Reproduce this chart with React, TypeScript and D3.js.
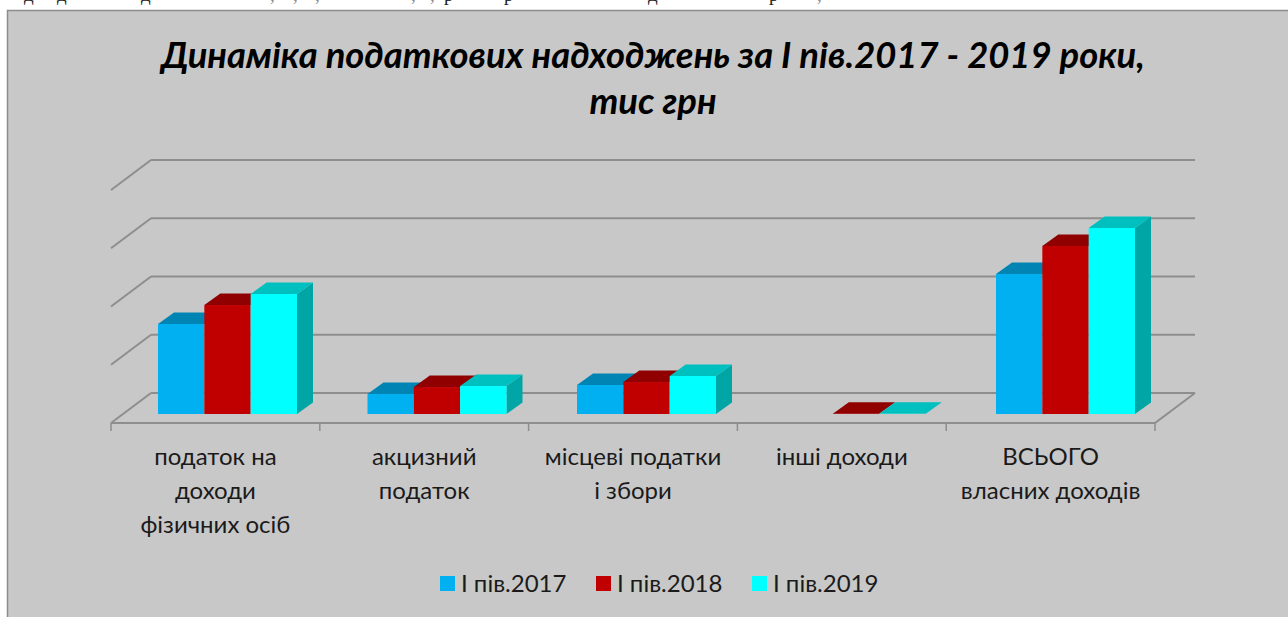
import * as d3 from 'd3'

const categories = ['податок на доходи фізичних осіб', 'акцизний податок', 'місцеві податки і збори', 'інші доходи', 'ВСЬОГО власних доходів']
const categoryLines = [
  ['податок на', 'доходи', 'фізичних осіб'],
  ['акцизний', 'податок'],
  ['місцеві податки', 'і збори'],
  ['інші доходи'],
  ['ВСЬОГО', 'власних доходів'],
]
const seriesNames = ['І пів.2017', 'І пів.2018', 'І пів.2019']
const values2017 = [1545, 343, 498, null, 2403]
const values2018 = [1871, 463, 549, 5, 2884]
const values2019 = [2060, 480, 652, 3, 3193]
const seriesValues = [values2017, values2018, values2019]
const frontColors = ['#00b0f0', '#c00000', '#00ffff']
const topColors = ['#0084b4', '#900000', '#00bfbf']
const sideColors = ['#0075a0', '#800000', '#00a6a6']
const ticks = [0, 1000, 2000, 3000, 4000]
// bottom edge of the line of page text that sits above the chart, cut off by the crop
const strayChars = ['д', 'д', 'д', ',', ',', ',', ',', ',', 'р', 'р', 'д', 'р', ',']
const strayX = [24, 57, 141, 270, 293, 315, 411, 430, 444, 504, 648, 769, 817]

const titleFont = 'Lato, "Open Sans", sans-serif'
const bodyFont = 'Lato, "Open Sans", sans-serif'

export default function App() {
  // floor: front edge at y=423, back wall shifted by (40,-30)
  const x0 = d3.scaleBand<number>().domain(d3.range(categories.length)).range([111, 1155])
  const barX = d3.scalePoint<number>().domain(d3.range(categories.length)).range([158, 996])
  const wallY = d3.scaleLinear().domain([0, 4000]).range([393, 160])
  const h = d3.scaleLinear().domain([0, 4000]).range([0, 233])
  const x1 = d3.scaleBand<number>().domain([0, 1, 2]).range([0, 139])
  const base = 414, dx = 16, dy = -11.5, wdx = 40, wdy = 30
  const grid = '#8e8e8e'

  return (
    <svg width={1288} height={617} style={{ position: 'absolute', left: 0, top: 0, display: 'block' }}>
      {strayChars.map((c, i) => (
        <text key={i} x={strayX[i]} y={0.5} fontFamily='"Liberation Serif", serif' fontSize={19} fill={c === ',' ? '#888' : '#222'}>{c}</text>
      ))}
      <rect x={7.5} y={10.5} width={1290} height={620} fill="#c8c8c8" stroke="#8c8c8c" strokeWidth={1.5} />

      <text x={653} y={68} textAnchor="middle" fontFamily={titleFont} fontWeight={700} fontStyle="italic" fontSize={36.4}>
        Динаміка податкових надходжень за І пів.2017 - 2019 роки,
      </text>
      <text x={653} y={114} textAnchor="middle" fontFamily={titleFont} fontWeight={700} fontStyle="italic" fontSize={36.4}>
        тис грн
      </text>

      {ticks.map(t => (
        <g key={t} stroke={grid} strokeWidth={2} fill="none">
          <line x1={151} x2={1195} y1={wallY(t)} y2={wallY(t)} />
          <line x1={151 - wdx} x2={151} y1={wallY(t) + wdy} y2={wallY(t)} />
        </g>
      ))}
      <path d={`M111,423H1155L1195,393`} fill="none" stroke={grid} strokeWidth={2} />
      {d3.range(categories.length + 1).map(i => {
        const x = i === categories.length ? 1155 : x0(i)!
        return <line key={i} x1={x} x2={x} y1={423} y2={431} stroke={grid} strokeWidth={1.5} />
      })}

      {categories.map((c, i) => (
        <g key={c}>
          {seriesValues.map((vals, s) => {
            const v = vals[i]
            if (v === null) return null
            const x = barX(i)! + x1(s)!
            const w = x1.bandwidth()
            const top = base - h(v)
            return (
              <g key={s}>
                {s === 2 && <path d={`M${x + w},${top}l${dx},${dy}V${base + dy}L${x + w},${base}Z`} fill={sideColors[s]} />}
                <path d={`M${x},${top}l${dx},${dy}h${w}l${-dx},${-dy}Z`} fill={topColors[s]} />
                <rect x={x} y={top} width={w} height={h(v)} fill={frontColors[s]} />
              </g>
            )
          })}
          <text textAnchor="middle" fontFamily={bodyFont} fontSize={24} fill="#1a1a1a">
            {categoryLines[i].map((line, k) => (
              <tspan key={k} x={x0(i)! + x0.bandwidth() / 2} y={465 + k * 34}>{line}</tspan>
            ))}
          </text>
        </g>
      ))}

      {seriesNames.map((name, s) => (
        <g key={name} transform={`translate(${440 + s * 156},576)`}>
          <rect width={15} height={15} fill={frontColors[s]} />
          <text x={21} y={16} fontFamily={bodyFont} fontSize={24} fill="#1a1a1a">{name}</text>
        </g>
      ))}
    </svg>
  )
}
